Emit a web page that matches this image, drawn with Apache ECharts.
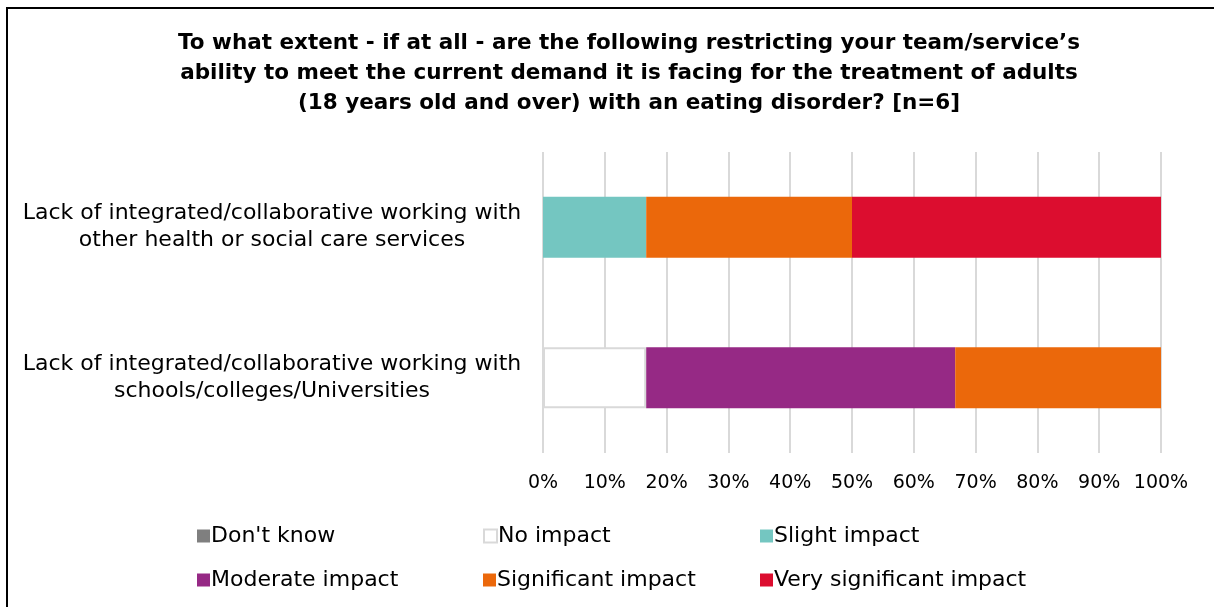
<!DOCTYPE html>
<html>
<head>
<meta charset="utf-8">
<script src="https://cdn.jsdelivr.net/npm/echarts@6/dist/echarts.min.js"></script>
<style>
  html, body { margin: 0; padding: 0; background: #ffffff; }
  #chart { width: 1214px; height: 607px; }
</style>
</head>
<body>
<div id="chart"></div>
<script>
// Survey question (n=6), share of respondents per answer
const categories = [
  'Lack of integrated/collaborative working with\nother health or social care services',
  'Lack of integrated/collaborative working with\nschools/colleges/Universities'
];
const dontKnow        = [0, 0];
const noImpact        = [0, 16.7];
const slightImpact    = [16.7, 0];
const moderateImpact  = [0, 50];
const significant     = [33.3, 33.3];
const verySignificant = [50, 0];
const xTicks = [0, 10, 20, 30, 40, 50, 60, 70, 80, 90, 100];

const FONT = 'DejaVu Sans';

const seriesDefs = [
  { name: "Don't know", data: dontKnow, color: '#7f7f7f' },
  { name: 'No impact', data: noImpact, color: '#ffffff', border: '#d9d9d9' },
  { name: 'Slight impact', data: slightImpact, color: '#74c6c1' },
  { name: 'Moderate impact', data: moderateImpact, color: '#962985' },
  { name: 'Significant impact', data: significant, color: '#eb680b' },
  { name: 'Very significant impact', data: verySignificant, color: '#dc0d2f' }
];

// legend slots: two rows of three
const legendPos = [
  { left: 192, top: 520 }, { left: 478, top: 520 }, { left: 755, top: 520 },
  { left: 192, top: 564 }, { left: 478, top: 564 }, { left: 755, top: 564 }
];

const chart = echarts.init(document.getElementById('chart'), null, { renderer: 'canvas' });

chart.setOption({
  animation: false,
  backgroundColor: '#ffffff',
  title: {
    text: 'To what extent - if at all - are the following restricting your team/service\u2019s\nability to meet the current demand it is facing for the treatment of adults\n(18 years old and over) with an eating disorder? [n=6]',
    left: 624,
    top: 23,
    textAlign: 'center',
    textStyle: {
      fontFamily: FONT,
      fontWeight: 'bold',
      fontSize: 21.5,
      lineHeight: 30,
      color: '#000000'
    }
  },
  graphic: [{
    type: 'rect',
    shape: { x: 7, y: 8, width: 1300, height: 700 },
    style: { fill: 'none', stroke: '#000000', lineWidth: 2 },
    silent: true
  }],
  legend: seriesDefs.map((s, i) => ({
    data: [{ name: s.name, icon: 'rect' }],
    left: legendPos[i].left,
    top: legendPos[i].top,
    itemWidth: 13,
    itemHeight: 13,
    itemGap: 2,
    selectedMode: false,
    textStyle: { fontFamily: FONT, fontSize: 22, color: '#000000', padding: [0, 0, 0, -4] }
  })),
  grid: { left: 543, right: 53, top: 152, bottom: 154, containLabel: false },
  xAxis: {
    type: 'value',
    min: 0,
    max: 100,
    interval: 10,
    axisLine: { show: false },
    axisTick: { show: false },
    splitLine: { show: true, lineStyle: { color: '#d9d9d9', width: 2 } },
    axisLabel: {
      fontFamily: FONT,
      fontSize: 19,
      color: '#000000',
      margin: 21,
      formatter: v => (xTicks.includes(v) ? v + '%' : '')
    }
  },
  yAxis: {
    type: 'category',
    inverse: true,
    data: categories,
    axisLine: { show: false },
    axisTick: { show: false },
    splitLine: { show: false },
    axisLabel: {
      fontFamily: FONT,
      fontSize: 22,
      lineHeight: 27,
      color: '#000000',
      align: 'center',
      margin: 271,
      padding: [5, 0, 0, 0]
    }
  },
  series: seriesDefs.map(s => ({
    type: 'bar',
    name: s.name,
    stack: 'total',
    barWidth: 61,
    data: s.data,
    itemStyle: {
      color: s.color,
      borderColor: s.border || s.color,
      borderWidth: s.border ? 2 : 0
    }
  }))
});
</script>
</body>
</html>
